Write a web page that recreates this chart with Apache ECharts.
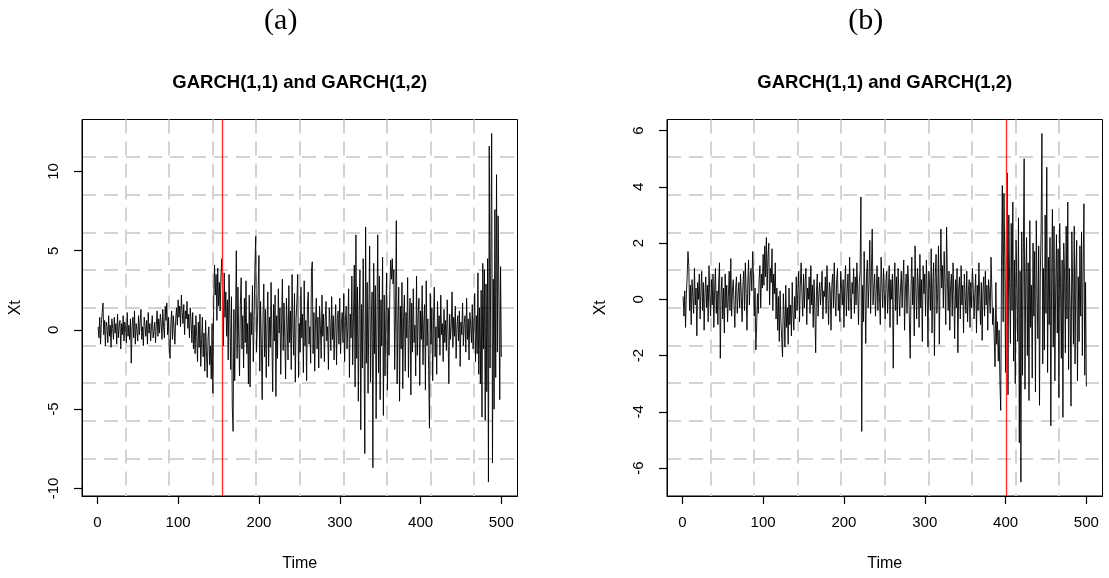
<!DOCTYPE html>
<html><head><meta charset="utf-8">
<script src="https://cdn.jsdelivr.net/npm/echarts@6/dist/echarts.min.js"></script>
<style>html,body{margin:0;padding:0;background:#fff}#c{width:1109px;height:578px}</style>
</head><body><div id="c"></div>
<script>
// Panel (a): simulated series, t = 1..500
const seriesA = [
0.2,-0.5,0.8,-0.9,0.4,1.1,1.7,-0.3,0.6,-1.0,
0.5,0.2,-0.8,0.9,-0.4,0.3,-1.1,0.7,0.1,-0.6,
0.8,-0.2,0.4,-0.9,1.0,-0.5,0.2,0.6,-1.2,0.4,
-0.3,0.9,-0.7,0.5,0.1,-0.8,1.1,-0.4,0.3,-0.6,
0.7,-2.1,0.2,0.8,-0.5,1.2,-0.9,0.4,0.0,-0.7,
0.9,-0.3,0.5,1.3,-0.6,0.2,-1.0,0.8,0.3,-0.4,
0.6,-0.9,1.1,-0.2,0.4,-0.7,0.2,0.9,-0.5,-0.1,
0.5,-0.8,0.3,1.2,-0.4,0.7,-0.2,1.0,0.4,-0.6,
1.3,0.2,-0.5,1.5,0.6,1.7,-0.3,0.8,-1.1,-1.8,
0.4,1.2,-0.6,0.9,0.1,-0.9,0.7,1.4,0.3,1.9,
0.8,1.5,0.2,2.2,1.1,0.4,1.6,-0.3,1.2,0.7,
1.8,0.1,1.0,-0.5,1.4,0.6,-0.8,1.1,-1.2,0.3,
-1.5,0.9,-0.4,-2.0,0.5,-1.1,1.0,-2.3,-0.6,0.8,
-1.7,-0.2,-2.6,0.6,-1.3,-3.0,-0.5,0.2,-2.2,-1.0,
-3.1,0.4,-4.0,1.8,4.1,2.2,3.5,0.6,3.9,1.5,
3.0,1.2,3.4,4.5,2.6,-1.0,3.6,0.8,2.4,-0.4,
1.9,-1.9,3.5,0.7,-2.5,2.1,-4.8,-6.4,1.3,-3.2,
0.5,5.0,-1.8,2.7,-0.6,-2.9,1.6,3.3,-1.2,0.9,
-2.4,2.0,-0.8,3.1,-1.5,0.4,-3.4,2.2,-3.6,1.1,
-0.3,2.8,-2.0,0.6,3.9,5.9,-1.4,0.2,2.5,4.7,
-2.6,1.8,-0.9,-4.4,0.7,2.9,-1.7,1.3,-3.0,0.4,
2.4,-2.3,0.8,-1.1,3.0,-0.4,-3.9,1.6,-0.7,2.2,
-4.2,0.9,-1.8,2.6,-0.2,1.4,-2.8,0.5,3.2,-1.3,
1.7,-0.6,-3.1,2.0,0.3,-1.9,2.8,-0.8,1.2,-2.5,
3.5,0.1,-1.6,2.3,-3.3,0.7,1.9,3.5,-3.0,0.4,
-1.4,2.7,-0.5,1.0,-2.7,3.1,-1.0,0.6,-3.2,1.5,
2.4,-0.9,0.2,-2.1,3.7,4.3,-1.5,1.1,-2.6,0.5,
2.0,-1.2,0.8,-2.4,1.5,0.3,-1.8,2.2,-0.4,1.0,
-2.0,0.6,1.8,-0.7,0.2,-2.5,1.4,0.4,-1.3,2.1,
-0.6,0.9,-1.9,0.3,1.6,-2.2,0.7,1.2,-0.9,2.0,
-1.5,0.4,1.1,-0.8,2.3,-2.0,0.6,1.5,-1.2,0.2,
2.6,-3.0,1.0,-0.5,3.4,-2.2,0.8,4.1,-3.6,6.0,
-1.8,2.7,-4.5,0.9,3.8,-6.3,1.6,-2.4,4.5,-0.7,
-7.8,6.5,-2.1,3.0,-4.0,1.2,5.3,-3.3,0.5,2.4,
-8.7,4.2,-1.5,2.8,-5.6,0.8,6.0,-2.7,3.4,-4.4,
1.9,-1.0,4.6,-5.4,2.2,-2.9,0.7,3.6,-3.8,1.4,
-1.6,2.5,4.4,3.2,4.5,2.9,3.8,-2.5,1.0,6.9,
-3.4,0.6,2.7,-4.5,1.5,-1.2,3.0,-3.7,0.8,2.2,
-2.6,1.1,-0.5,3.3,-3.0,0.4,2.0,-4.1,1.7,-1.4,
2.6,-0.8,0.3,-2.9,3.4,-1.6,0.9,2.0,-3.5,1.2,
-0.6,2.8,-2.2,0.5,1.6,-3.8,3.1,-1.0,0.7,-2.5,
-6.2,2.3,-0.9,1.4,-3.2,0.6,2.7,-1.7,0.2,-2.8,
1.8,-0.5,0.9,-1.6,2.2,-0.3,0.4,-2.0,1.3,-0.8,
0.6,-1.3,1.9,-0.2,-3.4,1.0,-0.6,0.3,2.4,-1.1,
0.8,-0.4,1.5,-1.8,0.2,0.9,-0.7,1.2,-2.3,0.5,
-0.3,1.7,-1.0,0.4,0.9,-1.4,2.0,-0.6,0.7,-1.9,
1.1,0.3,-0.8,1.6,-1.2,0.5,2.3,-2.0,0.9,-1.5,
3.6,-2.8,1.4,-3.4,2.5,-5.5,4.2,-1.2,3.8,-5.7,
2.9,-3.9,4.5,-9.6,11.6,-2.4,5.0,12.4,-8.4,3.2,
-5.0,7.6,-3.0,9.8,-1.4,7.2,2.1,-4.4,4.0,-1.7
];
// Panel (b): simulated series, t = 1..500
const seriesB = [
0.1,-0.6,0.3,-1.0,0.2,0.8,1.7,1.2,-0.4,0.5,
-0.9,0.7,0.1,-0.5,1.1,-0.2,0.4,-1.3,0.6,0.0,
0.9,-0.7,0.3,1.0,-0.4,0.6,-1.1,0.2,0.8,-0.3,
0.5,-0.8,1.2,0.1,-0.6,0.7,-0.2,0.9,-1.0,0.4,
1.1,-0.5,0.3,-0.9,0.6,1.3,-2.1,0.2,0.8,-0.7,
0.4,-1.2,0.9,-0.3,0.5,-0.8,0.1,1.0,-0.4,1.45,
-0.6,0.3,0.7,-0.2,-1.0,0.4,0.8,-0.5,0.2,0.6,
-0.3,0.9,0.1,-0.8,0.5,1.0,-0.4,1.3,0.2,-1.1,
0.6,1.4,-0.2,0.8,1.1,0.3,1.7,0.9,-0.6,0.4,
-1.8,-0.9,0.2,-0.5,0.7,1.2,-0.3,0.9,0.4,1.6,
0.5,1.9,0.8,2.2,0.3,1.5,2.0,-0.2,1.1,0.6,
1.8,-0.4,0.9,0.2,1.3,-0.7,0.4,-1.1,0.1,-1.5,
0.3,-0.8,-1.4,-2.05,0.2,-0.6,-1.7,0.5,-1.0,-0.3,
-1.6,0.4,-0.9,-0.2,-1.3,0.6,-0.5,-1.1,0.1,-0.7,
0.8,-0.4,0.3,1.0,-0.8,0.5,1.3,0.2,-0.6,0.9,
-0.3,0.6,1.1,-0.9,0.4,0.0,0.8,-0.5,1.2,-0.2,
0.5,-1.0,0.7,-0.4,-1.9,0.3,0.9,-0.6,0.2,0.6,
-0.2,0.4,1.0,-0.7,0.3,0.1,0.8,-0.5,1.2,0.2,
-0.9,0.6,0.3,-1.1,0.5,0.9,-0.3,1.3,0.0,-0.6,
0.7,1.1,-0.4,0.2,-0.8,1.0,0.4,-0.2,0.7,-1.0,
0.5,1.2,-0.6,0.3,0.9,-0.4,1.5,0.1,-0.7,0.6,
0.2,1.1,-0.5,0.8,-0.2,1.3,0.4,-0.9,0.6,1.0,
3.64,-4.7,0.5,-0.8,1.7,0.2,-1.57,0.9,1.4,-0.3,
0.6,2.1,-0.5,1.0,2.5,-0.2,0.4,0.9,-0.6,0.3,
1.2,-0.4,0.8,0.1,-0.9,1.5,0.5,-0.3,1.1,0.2,
-0.7,0.6,1.0,-0.5,0.3,1.2,-1.0,0.7,0.0,0.9,
-2.45,0.5,1.3,-0.4,0.8,-0.9,1.1,0.2,-0.6,0.4,
1.0,-0.3,0.7,1.4,-1.1,0.3,0.9,-0.5,1.2,0.6,
-0.8,-2.1,0.4,1.5,-0.2,0.8,-1.3,1.9,0.3,-0.7,
1.1,0.5,-1.0,1.6,-0.3,0.7,-1.5,1.2,0.2,0.9,
-0.6,1.4,0.3,-1.7,1.0,0.5,-0.4,1.8,-1.2,0.6,
1.3,-2.0,0.8,1.6,-0.5,0.2,1.9,-1.6,0.7,2.5,
0.4,1.2,-0.3,1.7,0.6,-0.9,2.57,0.8,-0.4,1.0,
-1.1,0.5,0.9,-0.6,1.3,0.2,-1.4,0.7,-0.3,1.1,
-1.9,0.4,0.8,-0.7,1.2,-0.2,0.5,-1.2,0.9,0.1,
-0.5,1.0,-0.8,0.3,0.7,-1.0,0.6,-0.3,1.1,0.4,
-0.7,0.2,0.9,-1.2,0.5,-0.4,1.3,0.1,-0.9,0.6,
-1.46,0.3,0.8,-0.6,1.0,-0.2,0.5,-1.1,0.7,0.2,
-0.5,1.5,0.4,-0.9,-0.3,-1.4,-2.4,0.6,-1.6,-0.8,
-2.2,-1.1,-2.9,-3.95,1.2,4.05,-0.8,3.77,1.5,-2.6,
2.3,4.5,-3.4,3.0,0.6,-1.57,2.7,-0.4,3.46,-2.2,
1.4,-3.0,2.1,0.3,-1.5,2.9,-5.1,1.0,-6.5,2.4,
-2.7,1.6,5.0,-3.2,0.8,2.2,-2.0,1.3,-3.6,2.8,
-1.0,0.5,-2.8,2.0,-0.6,1.7,-3.3,2.8,0.2,-1.4,
1.9,-3.77,0.9,2.5,5.9,-2.3,1.1,-1.8,3.0,-0.5,
4.7,-2.6,1.5,-0.9,2.2,-4.5,0.7,3.2,-1.7,2.6,
-2.9,0.4,2.3,-1.2,1.8,-3.5,2.7,0.6,-2.1,1.4,
-4.2,2.0,0.9,-1.9,2.6,-0.7,3.46,-2.5,1.1,-0.3,
-3.8,2.4,0.5,-1.6,2.6,-2.3,1.0,2.1,-2.9,0.8,
-1.5,1.9,-0.6,2.4,-2.0,1.2,3.4,-2.7,0.6,-3.1
];
const xTickLabels = [0, 100, 200, 300, 400, 500];
const yTickLabelsA = [-10, -5, 0, 5, 10];
const yTickLabelsB = [-6, -4, -2, 0, 2, 4, 6];
const changePoints = [155, 401];
const panelLetters = ['(a)', '(b)'];
const plotTitle = 'GARCH(1,1) and GARCH(1,2)';
const xName = 'Time';
const yName = 'Xt';

function rRange(arr) {
  const mn = Math.min(...arr), mx = Math.max(...arr);
  const d = (mx - mn) * 0.04;
  return [mn - d, mx + d];
}
const SANS = 'Liberation Sans, Arial, sans-serif';
const grids = [
  { left: 82, top: 119.5, width: 435.5, height: 376.5 },
  { left: 667, top: 119.5, width: 435.5, height: 376.5 }
];
const panels = [
  { data: seriesA, yTicks: yTickLabelsA, cp: changePoints[0] },
  { data: seriesB, yTicks: yTickLabelsB, cp: changePoints[1] }
];
const gridLine = { show: true, showMinLine: false, showMaxLine: false,
  lineStyle: { color: '#d3d3d3', width: 2, type: [14, 8] } };

const option = { animation: false, backgroundColor: '#fff', grid: [], xAxis: [], yAxis: [], series: [], graphic: [] };
panels.forEach((p, i) => {
  const g = grids[i];
  option.grid.push(Object.assign({ show: true, borderColor: '#000', borderWidth: 1, backgroundColor: 'transparent' }, g));
  const xr = rRange([1, p.data.length]);
  const yr = rRange(p.data);
  option.xAxis.push({ type: 'value', gridIndex: i, min: xr[0], max: xr[1], position: 'bottom',
    axisLine: { show: true, onZero: false, lineStyle: { color: '#000' } }, splitLine: { show: false },
    axisTick: { show: true, customValues: xTickLabels, length: 8, lineStyle: { color: '#000', width: 1.2 } },
    axisLabel: { customValues: xTickLabels, color: '#000', fontSize: 15, fontFamily: SANS, margin: 19 } });
  option.yAxis.push({ type: 'value', gridIndex: i, min: yr[0], max: yr[1], position: 'left',
    axisLine: { show: true, onZero: false, lineStyle: { color: '#000' } }, splitLine: { show: false },
    axisTick: { show: true, customValues: p.yTicks, length: 8, lineStyle: { color: '#000', width: 1.2 } },
    axisLabel: { customValues: p.yTicks, color: '#000', fontSize: 15, fontFamily: SANS, margin: 21, rotate: 90 } });
  // grid-line axes (10 equal divisions of the plot box)
  option.xAxis.push({ type: 'value', gridIndex: i, min: 0, max: 10, interval: 1, position: 'top',
    axisLine: { show: false, onZero: false }, axisTick: { show: false }, axisLabel: { show: false }, splitLine: gridLine });
  option.yAxis.push({ type: 'value', gridIndex: i, min: 0, max: 10, interval: 1, position: 'right',
    axisLine: { show: false, onZero: false }, axisTick: { show: false }, axisLabel: { show: false }, splitLine: gridLine });
  option.series.push({ type: 'line', xAxisIndex: i * 2, yAxisIndex: i * 2,
    data: p.data.map((v, k) => [k + 1, v]), showSymbol: false, symbol: 'none', sampling: null,
    lineStyle: { color: '#000', width: 0.9 }, z: 3,
    markLine: { silent: true, symbol: 'none', label: { show: false }, animation: false,
      lineStyle: { color: '#ff2a2a', width: 1.3, type: 'solid' }, data: [{ xAxis: p.cp }] } });
  const cx = g.left + g.width / 2;
  option.graphic.push(
    { type: 'text', x: cx, y: 83, style: { text: plotTitle, fontSize: 18.5, fontWeight: 'bold', fontFamily: SANS, fill: '#000', align: 'center', verticalAlign: 'middle' } },
    { type: 'text', x: cx, y: 564, style: { text: xName, fontSize: 16, fontFamily: SANS, fill: '#000', align: 'center', verticalAlign: 'middle' } },
    { type: 'text', x: g.left - 66, y: g.top + g.height / 2, rotation: Math.PI / 2, style: { text: yName, fontSize: 16, fontFamily: SANS, fill: '#000', align: 'center', verticalAlign: 'middle' } },
    { type: 'text', x: cx - 19, y: 21, style: { text: panelLetters[i], fontSize: 30, fontFamily: 'Liberation Serif, Times New Roman, serif', fill: '#000', align: 'center', verticalAlign: 'middle' } }
  );
});
const chart = echarts.init(document.getElementById('c'), null, { renderer: 'canvas' });
chart.setOption(option);
</script>
</body></html>
